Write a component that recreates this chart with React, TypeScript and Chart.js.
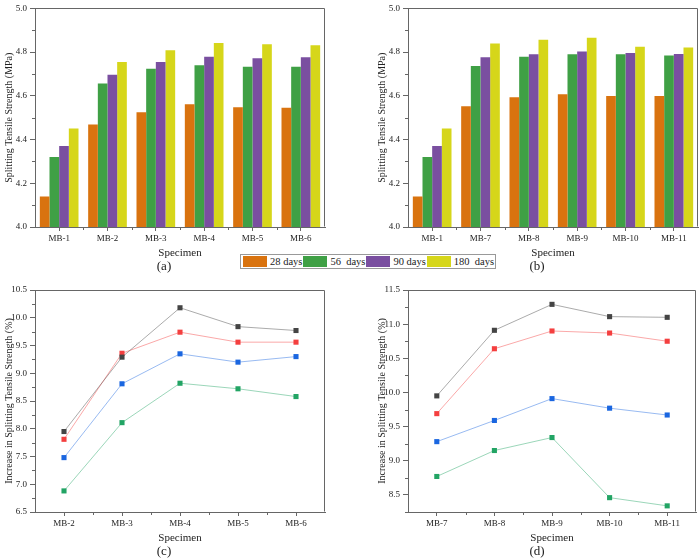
import React, { useEffect, useRef } from 'react';
import { Chart, registerables } from 'chart.js';

Chart.register(...registerables);

// ---------- data ----------
const specimensA = ['MB-1', 'MB-2', 'MB-3', 'MB-4', 'MB-5', 'MB-6'];
const a28 = [4.14, 4.469, 4.525, 4.562, 4.548, 4.545];
const a56 = [4.32, 4.657, 4.724, 4.74, 4.733, 4.733];
const a90 = [4.37, 4.697, 4.755, 4.779, 4.772, 4.777];
const a180 = [4.451, 4.755, 4.809, 4.842, 4.836, 4.831];

const specimensB = ['MB-1', 'MB-7', 'MB-8', 'MB-9', 'MB-10', 'MB-11'];
const b28 = [4.14, 4.552, 4.593, 4.607, 4.599, 4.599];
const b56 = [4.32, 4.737, 4.779, 4.79, 4.79, 4.784];
const b90 = [4.37, 4.776, 4.79, 4.803, 4.796, 4.791];
const b180 = [4.451, 4.839, 4.857, 4.866, 4.825, 4.821];

const specimensC = ['MB-2', 'MB-3', 'MB-4', 'MB-5', 'MB-6'];
const cBlack = [7.95, 9.29, 10.18, 9.84, 9.77];
const cRed = [7.81, 9.36, 9.74, 9.56, 9.56];
const cBlue = [7.48, 8.81, 9.35, 9.2, 9.3];
const cGreen = [6.88, 8.11, 8.82, 8.72, 8.58];

const specimensD = ['MB-7', 'MB-8', 'MB-9', 'MB-10', 'MB-11'];
const dBlack = [9.95, 10.91, 11.29, 11.11, 11.1];
const dRed = [9.69, 10.64, 10.9, 10.87, 10.75];
const dBlue = [9.28, 9.59, 9.91, 9.77, 9.67];
const dGreen = [8.77, 9.15, 9.34, 8.46, 8.34];

const dayLabels = ['28 days', '56  days', '90 days', '180  days'];

const yTicksBar = [4.0, 4.1, 4.2, 4.3, 4.4, 4.5, 4.6, 4.7, 4.8, 4.9, 5.0];
const yTicksC = [6.5, 6.75, 7.0, 7.25, 7.5, 7.75, 8.0, 8.25, 8.5, 8.75, 9.0, 9.25, 9.5, 9.75, 10.0, 10.25, 10.5];
const yTicksD = [8.25, 8.5, 8.75, 9.0, 9.25, 9.5, 9.75, 10.0, 10.25, 10.5, 10.75, 11.0, 11.25, 11.5];

// ---------- style ----------
const FONT = "'Liberation Serif', 'Times New Roman', serif";
const TEXT = '#222';
const AXIS = '#666';
const BAR_COLORS = ['#D9730F', '#3FA045', '#7A4FA0', '#D6D61A'];
const LINE_SOLID = ['#444444', '#F43F3F', '#1A66E0', '#22A464'];
const LINE_PALE = ['rgba(68,68,68,0.45)', 'rgba(244,63,63,0.45)', 'rgba(26,102,224,0.45)', 'rgba(34,164,100,0.45)'];

function isMajor(v: number, step: number) {
  const q = v / step;
  return Math.abs(q - Math.round(q)) < 1e-6;
}

function makeFramePlugin(step: number) {
  return {
    id: 'frameMinor',
    afterDraw(chart: any) {
      const { ctx, chartArea: a, scales } = chart;
      ctx.save();
      ctx.strokeStyle = AXIS;
      ctx.lineWidth = 1;
      const l = Math.round(a.left) + 0.5;
      const t = Math.round(a.top) + 0.5;
      const r = Math.round(a.right) - 0.5;
      const b = Math.round(a.bottom) - 0.5;
      ctx.beginPath();
      ctx.moveTo(l, t);
      ctx.lineTo(r, t);
      ctx.lineTo(r, b);
      ctx.stroke();
      const x = scales.x;
      const n = x.ticks.length;
      ctx.beginPath();
      for (let i = 0; i < n - 1; i++) {
        const px = Math.round((x.getPixelForTick(i) + x.getPixelForTick(i + 1)) / 2) + 0.5;
        ctx.moveTo(px, a.bottom);
        ctx.lineTo(px, a.bottom + 3);
      }
      const y = scales.y;
      y.ticks.forEach((tk: any, i: number) => {
        if (!isMajor(tk.value, step)) {
          const py = Math.round(y.getPixelForTick(i)) + 0.5;
          ctx.moveTo(a.left - 3, py);
          ctx.lineTo(a.left, py);
        }
      });
      ctx.stroke();
      ctx.restore();
    },
  };
}

function labelEvery(step: number) {
  return (v: any) => (isMajor(v, step) ? Number(v).toFixed(1) : '');
}

function commonScales(yTitle: string, min: number, max: number, ticks: number[], step: number, xOffset: boolean) {
  return {
    x: {
      offset: xOffset,
      grid: { display: true, drawOnChartArea: false, offset: false, tickLength: 4, color: AXIS },
      border: { color: AXIS },
      ticks: { font: { family: FONT, size: 9 }, color: TEXT, padding: 2, maxRotation: 0, autoSkip: false },
      title: { display: true, text: 'Specimen', font: { family: FONT, size: 11 }, color: TEXT, padding: 0 },
      afterFit: (s: any) => { s.height = 33; },
    },
    y: {
      min,
      max,
      afterBuildTicks: (s: any) => { s.ticks = ticks.map((v) => ({ value: v })); },
      ticks: { callback: labelEvery(step), font: { family: FONT, size: 9 }, color: TEXT, padding: 3, autoSkip: false },
      grid: {
        display: true,
        drawOnChartArea: false,
        tickLength: 5,
        color: AXIS,
        tickColor: (c: any) => (c.tick && isMajor(c.tick.value, step) ? AXIS : 'rgba(0,0,0,0)'),
      },
      border: { color: AXIS },
      title: { display: true, text: yTitle, font: { family: FONT, size: 10 }, color: TEXT, padding: 0 },
      afterFit: (s: any) => { s.width = 32; },
    },
  };
}

function basePlugins(tag: string) {
  return {
    legend: { display: false },
    tooltip: { enabled: false },
    title: {
      display: true,
      text: tag,
      position: 'bottom',
      font: { family: FONT, size: 13, lineHeight: 1, weight: 'normal' },
      padding: { top: 0, bottom: 2 },
      color: TEXT,
    },
  };
}

function barConfig(labels: string[], series: number[][], tag: string, padTop: number, padR: number) {
  return {
    type: 'bar',
    data: {
      labels,
      datasets: series.map((d, i) => ({
        label: dayLabels[i],
        data: d,
        backgroundColor: BAR_COLORS[i],
        borderWidth: 0,
        barPercentage: 1,
        categoryPercentage: 0.8,
      })),
    },
    options: {
      responsive: false,
      animation: false,
      layout: { padding: { left: 3, top: padTop, right: padR, bottom: 0 } },
      plugins: basePlugins(tag),
      scales: commonScales('Splitting Tensile Strength (MPa)', 4, 5, yTicksBar, 0.2, true),
    },
    plugins: [makeFramePlugin(0.2)],
  };
}

function lineConfig(labels: string[], series: number[][], tag: string, min: number, max: number, ticks: number[], padTop: number, padR: number) {
  return {
    type: 'line',
    data: {
      labels,
      datasets: series.map((d, i) => ({
        label: 'S' + (i + 1),
        data: d,
        borderColor: LINE_PALE[i],
        borderWidth: 1,
        backgroundColor: LINE_SOLID[i],
        pointBackgroundColor: LINE_SOLID[i],
        pointBorderColor: LINE_SOLID[i],
        pointBorderWidth: 0,
        pointStyle: 'rect',
        pointRadius: 3.6,
        tension: 0,
      })),
    },
    options: {
      responsive: false,
      animation: false,
      layout: { padding: { left: 3, top: padTop, right: padR, bottom: 0 } },
      plugins: basePlugins(tag),
      scales: commonScales('Increase in Splitting Tensile Strength (%)', min, max, ticks, 0.5, true),
    },
    plugins: [makeFramePlugin(0.5)],
  };
}

function Panel({ left, top, width, height, config }: any) {
  const ref = useRef<HTMLCanvasElement | null>(null);
  useEffect(() => {
    const chart = new Chart(ref.current as HTMLCanvasElement, config);
    return () => chart.destroy();
  }, []);
  return (
    <div style={{ position: 'absolute', left, top, width, height }}>
      <canvas ref={ref} width={width} height={height} style={{ display: 'block', width, height }} />
    </div>
  );
}

function Legend() {
  return (
    <div
      style={{
        position: 'absolute',
        left: 240,
        top: 254,
        width: 254,
        height: 13,
        border: '1px solid #999',
        background: '#fff',
        display: 'flex',
        alignItems: 'center',
        fontFamily: FONT,
        fontSize: 10.5,
        color: TEXT,
        whiteSpace: 'pre',
        lineHeight: '13px',
      }}
    >
      {dayLabels.map((d, i) => (
        <div key={d} style={{ display: 'flex', alignItems: 'center' }}>
          <div style={{ width: 24, height: 11, background: BAR_COLORS[i], marginLeft: i === 0 ? 2 : 1, marginRight: 3 }} />
          <span>{d}</span>
        </div>
      ))}
    </div>
  );
}

export default function App() {
  return (
    <div style={{ position: 'fixed', left: 0, top: 0, width: 700, height: 560, background: '#fff', overflow: 'hidden' }}>
      <Panel left={0} top={0} width={350} height={275} config={barConfig(specimensA, [a28, a56, a90, a180], '(a)', 3, 25)} />
      <Panel left={373} top={0} width={327} height={275} config={barConfig(specimensB, [b28, b56, b90, b180], '(b)', 3, 2)} />
      <Panel left={0} top={275} width={350} height={285} config={lineConfig(specimensC, [cBlack, cRed, cBlue, cGreen], '(c)', 6.5, 10.5, yTicksC, 15, 25)} />
      <Panel left={373} top={275} width={327} height={285} config={lineConfig(specimensD, [dBlack, dRed, dBlue, dGreen], '(d)', 8.25, 11.5, yTicksD, 15, 2)} />
      <Legend />
    </div>
  );
}
